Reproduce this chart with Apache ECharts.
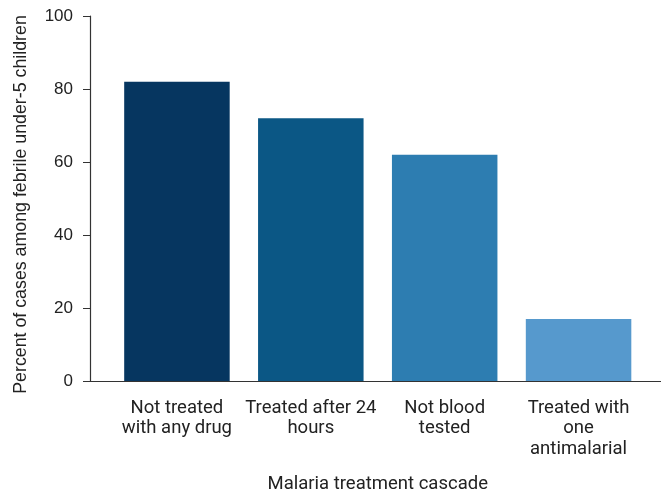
<!DOCTYPE html>
<html>
<head>
<meta charset="utf-8">
<script src="https://cdn.jsdelivr.net/npm/echarts@6/dist/echarts.min.js"></script>
<style>html,body{margin:0;padding:0;background:#fff}#c{width:661px;height:494px}</style>
</head>
<body>
<div id="c"></div>
<script>
const categories = ['Not treated\nwith any drug', 'Treated after 24\nhours', 'Not blood\ntested', 'Treated with\none\nantimalarial'];
const values = [82, 72, 62, 17];
const barColors = ['#063660', '#0b5785', '#2d7db1', '#5699cd'];
const yTicks = { min: 0, max: 100, interval: 20 };
const xName = 'Malaria treatment cascade';
const yName = 'Percent of cases among febrile under-5 children';

const chart = echarts.init(document.getElementById('c'));
const gTop = 16, gBottom = 113;
chart.setOption({
  animation: false,
  grid: [
    { left: 90, right: 0, top: gTop, bottom: gBottom, outerBoundsMode: 'none', containLabel: false },
    { left: 110, right: 15.5, top: gTop, bottom: gBottom, outerBoundsMode: 'none', containLabel: false }
  ],
  xAxis: [
    { gridIndex: 0, type: 'value', min: 0, max: 1,
      axisLine: { show: true, lineStyle: { color: '#333', width: 1.2 } },
      axisTick: { show: false }, axisLabel: { show: false }, splitLine: { show: false } },
    { gridIndex: 1, type: 'category', data: categories,
      axisLine: { show: false }, axisTick: { show: false },
      axisLabel: { show: true, interval: 0, margin: 17, color: '#222', fontFamily: 'Roboto', fontSize: 18.5, lineHeight: 20.5, align: 'center' },
      name: xName, nameLocation: 'middle', nameGap: 94,
      nameTextStyle: { color: '#222', fontFamily: 'Roboto', fontSize: 18.5 } }
  ],
  yAxis: [
    { gridIndex: 0, type: 'value', min: yTicks.min, max: yTicks.max, interval: yTicks.interval,
      axisLine: { show: true, lineStyle: { color: '#333', width: 1.2 } },
      axisTick: { show: true, length: 7, lineStyle: { color: '#333' } },
      axisLabel: { color: '#222', fontFamily: 'Liberation Sans', fontSize: 17, margin: 17 },
      splitLine: { show: false },
      name: yName, nameLocation: 'middle', nameGap: 60,
      nameTextStyle: { color: '#222', fontFamily: 'Liberation Sans', fontSize: 17.8, padding: [0, 12, 0, 0] } },
    { gridIndex: 1, type: 'value', min: yTicks.min, max: yTicks.max, show: false }
  ],
  series: [
    { type: 'bar', xAxisIndex: 1, yAxisIndex: 1, barWidth: 105.5,
      data: values.map((v, i) => ({ value: v, itemStyle: { color: barColors[i] } })) }
  ]
});
</script>
</body>
</html>
